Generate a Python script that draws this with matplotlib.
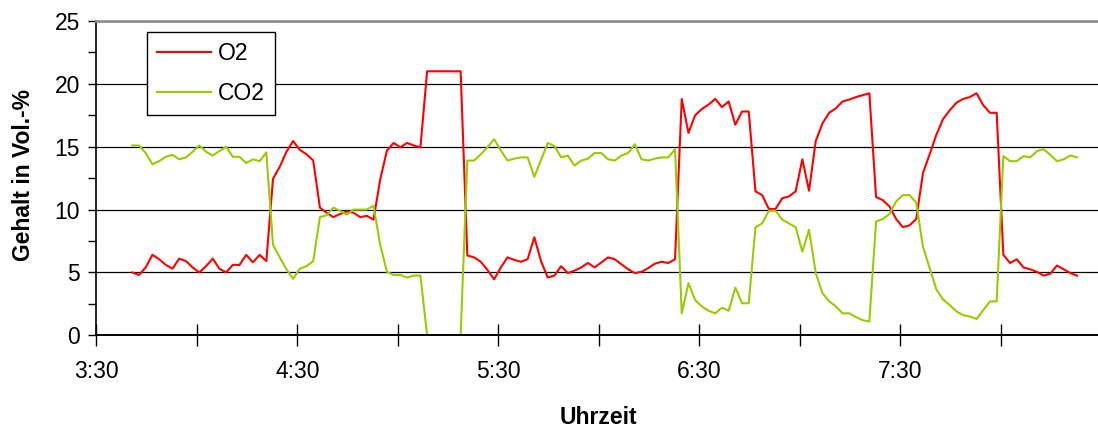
import numpy as np
import matplotlib.pyplot as plt

plt.rcParams['font.family'] = ['Liberation Sans', 'DejaVu Sans']

# Messwerte alle 2 min, erster Wert ca. 3:41 (Minuten nach 3:30)
start_min = 10.75
step_min = 2

o2 = [5.0, 4.8, 5.4, 6.4, 6.05, 5.6, 5.3, 6.1, 5.9, 5.4,
      5.0, 5.5, 6.1, 5.3, 5.0, 5.6, 5.6, 6.4, 5.8, 6.4,
      5.9, 12.45, 13.4, 14.6, 15.45, 14.75, 14.4, 13.9, 10.15, 9.75,
      9.4, 9.65, 9.85, 9.75, 9.4, 9.5, 9.2, 12.4, 14.7, 15.3,
      14.95, 15.3, 15.1, 14.95, 21.0, 21.0, 21.0, 21.0, 21.0, 21.0,
      6.35, 6.2, 5.85, 5.2, 4.45, 5.4, 6.2, 6.0, 5.85, 6.05,
      7.8, 5.9, 4.6, 4.75, 5.5, 4.95, 5.15, 5.4, 5.75, 5.4,
      5.8, 6.2, 6.05, 5.65, 5.25, 4.95, 5.05, 5.35, 5.7, 5.85,
      5.75, 6.05, 18.8, 16.1, 17.5, 18.0, 18.35, 18.8, 18.15, 18.6,
      16.75, 17.8, 17.8, 11.45, 11.15, 10.05, 10.05, 10.9, 11.05, 11.45,
      14.0, 11.5, 15.45, 16.85, 17.7, 18.05, 18.6, 18.75, 18.95, 19.1,
      19.25, 11.0, 10.75, 10.25, 9.25, 8.6, 8.75, 9.25, 12.9, 14.4,
      15.95, 17.2, 17.9, 18.5, 18.8, 18.95, 19.25, 18.3, 17.7, 17.7,
      6.4, 5.75, 6.05, 5.4, 5.25, 5.05, 4.75, 4.9, 5.55, 5.25,
      4.95, 4.75]

co2 = [15.1, 15.1, 14.5, 13.6, 13.85, 14.2, 14.35, 14.0, 14.15, 14.6,
       15.1, 14.6, 14.3, 14.65, 15.0, 14.2, 14.2, 13.7, 14.0, 13.85,
       14.55, 7.2, 6.2, 5.25, 4.5, 5.3, 5.5, 5.9, 9.4, 9.55,
       10.15, 9.9, 9.6, 10.0, 10.0, 10.0, 10.3, 7.2, 5.05, 4.8,
       4.8, 4.6, 4.75, 4.75, 0, 0, 0, 0, 0, 0,
       13.9, 13.9, 14.4, 14.95, 15.6, 14.7, 13.9, 14.05, 14.15, 14.15,
       12.6, 13.95, 15.3, 15.05, 14.15, 14.3, 13.5, 13.9, 14.05, 14.5,
       14.5, 14.0, 13.9, 14.3, 14.5, 15.2, 14.0, 13.9, 14.05, 14.15,
       14.15, 14.8, 1.75, 4.15, 2.8, 2.3, 1.95, 1.75, 2.2, 1.95,
       3.8, 2.55, 2.55, 8.6, 8.9, 9.9, 9.9, 9.2, 8.9, 8.6,
       6.65, 8.4, 4.95, 3.35, 2.7, 2.3, 1.75, 1.75, 1.45, 1.2,
       1.1, 9.05, 9.25, 9.65, 10.65, 11.15, 11.15, 10.55, 7.05, 5.35,
       3.65, 2.85, 2.4, 1.9, 1.6, 1.5, 1.3, 2.0, 2.7, 2.7,
       14.25, 13.85, 13.85, 14.25, 14.15, 14.65, 14.8, 14.35, 13.85, 14.0,
       14.3, 14.15]

hour_labels = ['3:30', '4:30', '5:30', '6:30', '7:30']

t = start_min + step_min * np.arange(len(o2))

fig = plt.figure(figsize=(10.98, 4.30), dpi=100)
ax = fig.add_axes([0.0877, 0.2202, 0.9123, 0.7310])

ax.plot(t, o2, color='#ff0000', lw=1.5, label='O2')
ax.plot(t, co2, color='#99cc00', lw=1.5, label='CO2')

ax.set_xlim(0, 299)
ax.set_ylim(0, 25)

ax.set_yticks([0, 5, 10, 15, 20, 25])
ax.set_yticks(np.arange(2.5, 25, 5), minor=True)
ax.set_xticks(np.arange(0, 300, 60))
ax.set_xticklabels(hour_labels)
ax.set_xticks(np.arange(30, 300, 60), minor=True)

ax.tick_params(axis='x', which='both', direction='inout', length=16, width=1,
               labelsize=16.5, pad=10, colors='black')
ax.tick_params(axis='y', which='both', direction='out', length=5.8, width=1,
               labelsize=16.5, pad=6, colors='black')

ax.yaxis.grid(True, which='major', color='black', lw=0.9)

ax.spines['right'].set_visible(False)
ax.spines['top'].set_color('#909090')
ax.spines['top'].set_linewidth(2)
ax.spines['left'].set_linewidth(1.2)
ax.spines['bottom'].set_linewidth(1.4)

ax.set_xlabel('Uhrzeit', fontsize=16.5, fontweight='bold')
ax.xaxis.set_label_coords(0.5008, -0.26)
ax.xaxis.label.set_va('center')
ax.set_ylabel('Gehalt in Vol.-%', fontsize=16.5, fontweight='bold')
ax.yaxis.set_label_coords(-0.073, 0.51)
ax.yaxis.label.set_va('center')

leg = ax.legend(loc='upper left', bbox_to_anchor=(0.0503, 0.966), borderaxespad=0,
                fontsize=16.5, handlelength=2.36, handletextpad=0.28,
                labelspacing=0.75, borderpad=0.45, fancybox=False,
                framealpha=1, edgecolor='black')
leg.get_frame().set_linewidth(1)

fig.savefig('out.png', dpi=100)
